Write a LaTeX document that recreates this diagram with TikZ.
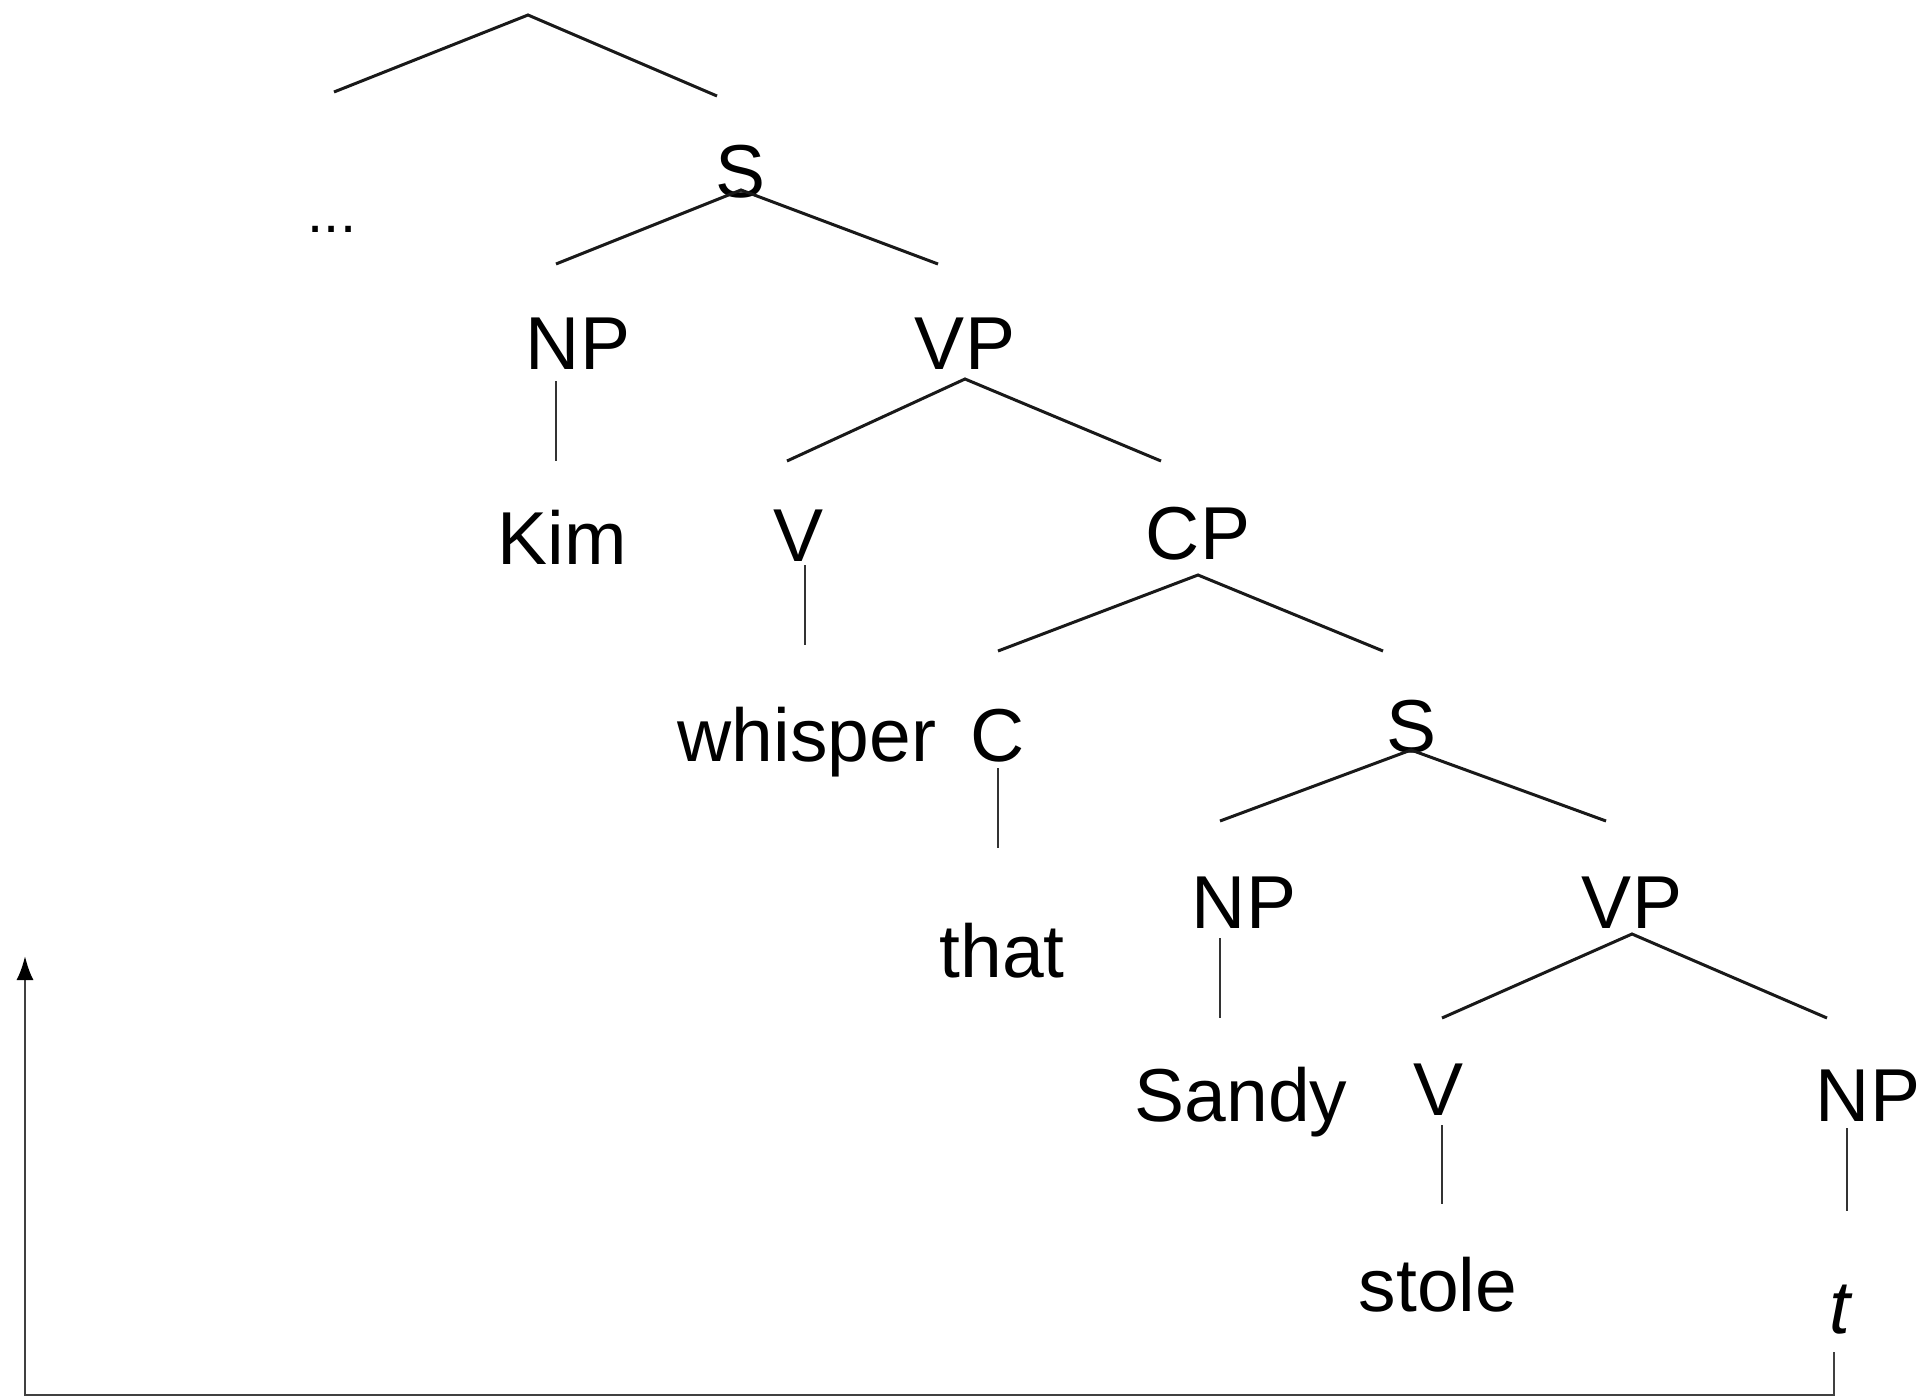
\documentclass[tikz,border=0pt]{standalone}
\usepackage{fontspec}
\setmainfont{Liberation Sans}
\usetikzlibrary{arrows.meta}
\begin{document}
\begin{tikzpicture}[x=1pt,y=-1pt,
  lab/.style={inner sep=0pt,anchor=base,font=\fontsize{75}{90}\selectfont},
  branch/.style={line width=3pt,black!90},
  stem/.style={line width=2.2pt,black!80},
  move/.style={line width=2.4pt,black!75,-{Latex[length=24pt,width=17pt,color=black]}}]
\useasboundingbox (0,0) rectangle (1927,1397);
% labels
\node[lab,font=\fontsize{58}{70}\selectfont] (dots) at (332,232) {...};
\node[lab] (S1) at (741,197) {S};
\node[lab] (NP1) at (578,369) {NP};
\node[lab] (VP1) at (965,369) {VP};
\node[lab] (Kim) at (562,564) {Kim};
\node[lab] (V1) at (799,561) {V};
\node[lab] (CP) at (1198,559) {CP};
\node[lab] (whisper) at (807,761) {whisper};
\node[lab] (C) at (998,761) {C};
\node[lab] (S2) at (1411,752) {S};
\node[lab] (that) at (1002,977) {that};
\node[lab] (NP2) at (1244,928) {NP};
\node[lab] (VP2) at (1632,928) {VP};
\node[lab] (Sandy) at (1241,1121) {Sandy};
\node[lab] (V2) at (1438,1115) {V};
\node[lab] (NP3) at (1868,1121) {NP};
\node[lab] (stole) at (1438,1311) {stole};
\node[lab] (t) at (1840,1333) {\itshape t};
% branch points
\coordinate (top) at (528,15);
\coordinate (topL) at (334,92);
\coordinate (topR) at (717,96);
\coordinate (S1a) at (741,190);
\coordinate (S1l) at (556,264);
\coordinate (S1r) at (938,264);
\coordinate (VP1a) at (965,379);
\coordinate (VP1l) at (787,461);
\coordinate (VP1r) at (1161,461);
\coordinate (CPa) at (1198,575);
\coordinate (CPl) at (998,651);
\coordinate (CPr) at (1383,651);
\coordinate (S2a) at (1411,750);
\coordinate (S2l) at (1220,821);
\coordinate (S2r) at (1606,821);
\coordinate (VP2a) at (1632,934);
\coordinate (VP2l) at (1442,1018);
\coordinate (VP2r) at (1827,1018);
% stems
\coordinate (NP1t) at (556,381); \coordinate (NP1b) at (556,461);
\coordinate (V1t) at (805,565); \coordinate (V1b) at (805,645);
\coordinate (Ct) at (998,768); \coordinate (Cb) at (998,848);
\coordinate (NP2t) at (1220,938); \coordinate (NP2b) at (1220,1018);
\coordinate (V2t) at (1442,1125); \coordinate (V2b) at (1442,1204);
\coordinate (NP3t) at (1847,1128); \coordinate (NP3b) at (1847,1211);
% movement path
\coordinate (m0) at (1834,1352);
\coordinate (m1) at (1834,1395);
\coordinate (m2) at (25,1395);
\coordinate (m3) at (25,956);
\draw[branch] (topL) -- (top) -- (topR);
\draw[branch] (S1l) -- (S1a) -- (S1r);
\draw[branch] (VP1l) -- (VP1a) -- (VP1r);
\draw[branch] (CPl) -- (CPa) -- (CPr);
\draw[branch] (S2l) -- (S2a) -- (S2r);
\draw[branch] (VP2l) -- (VP2a) -- (VP2r);
\draw[stem] (NP1t) -- (NP1b);
\draw[stem] (V1t) -- (V1b);
\draw[stem] (Ct) -- (Cb);
\draw[stem] (NP2t) -- (NP2b);
\draw[stem] (V2t) -- (V2b);
\draw[stem] (NP3t) -- (NP3b);
\draw[move] (m0) -- (m1) -- (m2) -- (m3);
\end{tikzpicture}
\end{document}
